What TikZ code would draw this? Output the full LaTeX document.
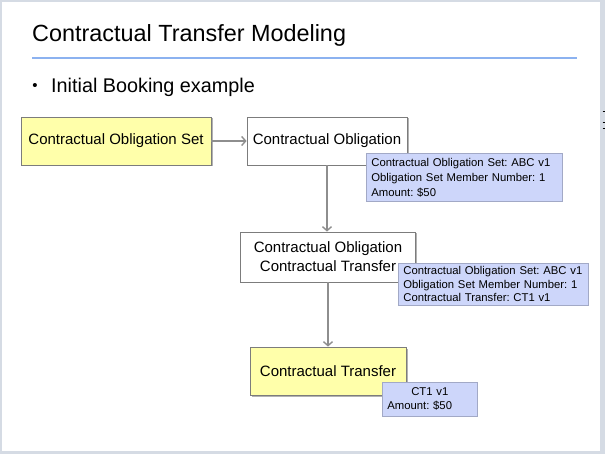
\documentclass[tikz,border=0pt]{standalone}
\usepackage{fontspec}
\setmainfont{Liberation Sans}
\frenchspacing
\usetikzlibrary{shadows,arrows.meta}
\definecolor{framegray}{HTML}{D5DBE4}
\definecolor{notefill}{HTML}{CDD6FA}
\definecolor{noteline}{HTML}{A2A9C6}
\definecolor{boxyellow}{HTML}{FFFFAA}
\definecolor{boxline}{HTML}{7C7C7C}
\definecolor{rulerblue}{HTML}{8CB2F0}
\definecolor{linkgray}{HTML}{8E8E8E}
\tikzset{
  entity/.style={draw=boxline, line width=0.8pt, minimum height=48pt, inner sep=3pt,
    font=\fontsize{15}{19}\selectfont,
    drop shadow={shadow xshift=1.5pt, shadow yshift=-1.5pt, opacity=0.3, fill=black}},
  note/.style={draw=noteline, fill=notefill, line width=0.7pt, align=left, anchor=north west,
    inner xsep=5pt, inner ysep=3pt, font=\fontsize{11.3}{15}\selectfont,
    drop shadow={shadow xshift=1pt, shadow yshift=-1pt, opacity=0.2, fill=black}},
  link/.style={draw=linkgray, line width=1.4pt, -{Straight Barb[length=4pt, width=9pt]}}
}
\begin{document}
\begin{tikzpicture}[x=1pt, y=-1pt]
\useasboundingbox (0,0) rectangle (605,454);
% slide frame
\fill[framegray] (0,0) rectangle (605,454);
\fill[white] (2,2) rectangle (600,451);
\draw[black, line width=0.6pt] (602.5,111) -- (605,111);
\draw[black, line width=0.6pt] (602.5,122) -- (605,122);
\draw[black, line width=0.6pt] (602.5,128) -- (605,128);
% heading
\node[anchor=base west, inner sep=0pt, font=\fontsize{23.4}{27}\selectfont] (title) at (32,42) {Contractual Transfer Modeling};
\draw[rulerblue, line width=1.5pt] (32,58) -- (577,58);
\node[inner sep=0pt, font=\fontsize{15}{16}\selectfont] (dot) at (35,87) {\textbullet};
\node[anchor=base west, inner sep=0pt, font=\fontsize{19.8}{22}\selectfont] (intro) at (51,93) {Initial Booking example};
% main boxes
\node[entity, fill=boxyellow, minimum width=190pt] (obset) at (116,141) {Contractual Obligation Set};
\node[entity, fill=white, minimum width=160pt] (oblig) at (327,141) {Contractual Obligation};
\node[entity, fill=white, minimum width=175pt, minimum height=50pt, align=center] (obltr) at (328,257) {Contractual Obligation\\Contractual Transfer};
\node[entity, fill=boxyellow, minimum width=156pt] (trans) at (328,371) {Contractual Transfer};
% connectors
\draw[link] (obset) -- (oblig);
\draw[link] (oblig.south) -- (oblig.south |- obltr.north);
\draw[link] (obltr.south) -- (trans.north);
% attribute notes
\node[note, text width=186pt, minimum height=48pt] (oblignote) at (366,153)
  {Contractual Obligation Set: ABC v1\\Obligation Set Member Number: 1\\Amount: \$50};
\node[note, text width=180pt, minimum height=42pt, font=\fontsize{11.3}{13.5}\selectfont] (obltrnote) at (398,263)
  {Contractual Obligation Set: ABC v1\\Obligation Set Member Number: 1\\Contractual Transfer: CT1 v1};
\node[note, text width=85pt, minimum height=34pt, font=\fontsize{11.3}{14}\selectfont] (transnote) at (382,382)
  {\makebox[85pt][c]{CT1 v1}\\Amount: \$50};
\end{tikzpicture}
\end{document}
